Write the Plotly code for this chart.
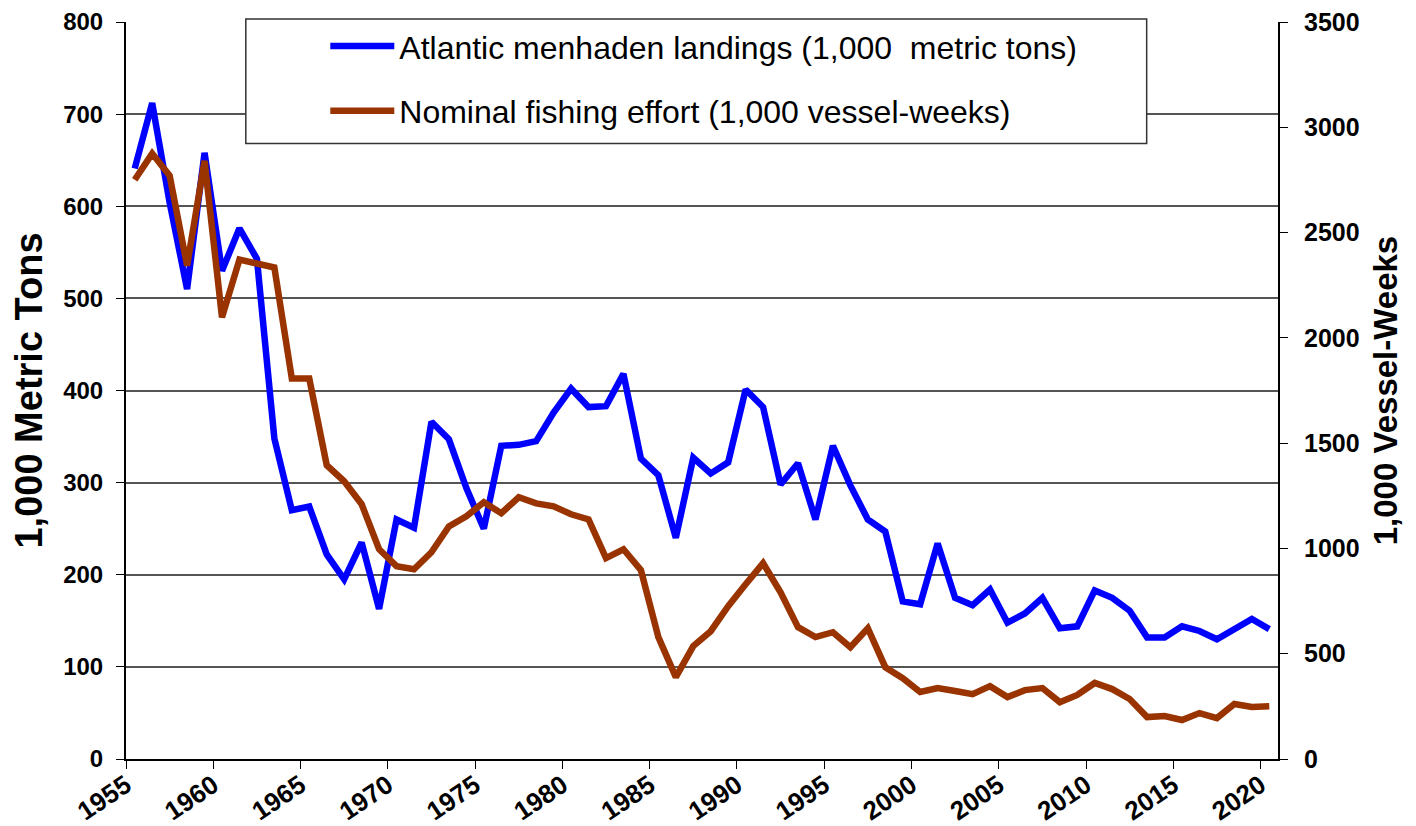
import plotly.graph_objects as go

years = list(range(1955, 2021))
landings = [641, 712, 604, 510, 658, 530, 576, 543, 348, 270, 274, 222, 195, 235, 163, 260, 251, 366, 347,
            294, 250, 340, 341, 345, 376, 402, 382, 383, 418, 326, 308, 240, 327, 310, 322, 401, 382, 298,
            321, 260, 340, 297, 260, 247, 171, 168, 234, 175, 167, 184, 148, 158, 175, 142, 144, 183, 175,
            161, 132, 132, 144, 139, 130, 142, 152, 141]
effort = [2751, 2875, 2770, 2343, 2841, 2097, 2372, 2353, 2334, 1807, 1807, 1395, 1319, 1210, 996, 916, 901,
          982, 1105, 1153, 1219, 1167, 1243, 1214, 1200, 1162, 1138, 954, 996, 897, 579, 389, 536, 607, 726,
          830, 930, 792, 626, 579, 602, 531, 621, 436, 384, 318, 337, 323, 308, 346, 294, 327, 337, 270,
          304, 361, 332, 285, 199, 204, 185, 218, 194, 261, 247, 250]
tick_years = list(range(1955, 2021, 5))
left_ticks = list(range(0, 801, 100))
right_ticks = list(range(0, 3501, 500))

name1 = "Atlantic menhaden landings (1,000  metric tons)"
name2 = "Nominal fishing effort (1,000 vessel-weeks)"

fig = go.Figure()
fig.add_trace(go.Scatter(x=years, y=landings, mode="lines", name=name1, legendgroup="a",
                         line=dict(color="#0000FF", width=6.5)))
fig.add_trace(go.Scatter(x=years, y=effort, mode="lines", name=name2, yaxis="y2", legendgroup="b",
                         line=dict(color="#993300", width=6.5)))

font_family = "Liberation Sans, Arial, sans-serif"
fig.update_layout(
    width=1416, height=826,
    margin=dict(l=118, r=146, t=13, b=75),
    paper_bgcolor="white", plot_bgcolor="white",
    font=dict(family=font_family, color="black"),
    showlegend=True,
    legend=dict(x=0.173, y=1.003, xanchor="left", yanchor="top",
                bgcolor="rgba(0,0,0,0)", borderwidth=0,
                font=dict(size=32, color="black"), tracegroupgap=20,
                itemwidth=64),
    xaxis=dict(range=[1954.5, 2020.5], tickmode="array", automargin=False,
               tickvals=[y - 0.5 for y in tick_years], ticktext=[str(y) for y in tick_years],
               tickangle=-34, tickfont=dict(size=26, family=font_family, weight="bold"),
               ticklabelstandoff=-9, ticklabeloverflow="allow",
               showgrid=False, zeroline=False, showline=True, linecolor="black", linewidth=2,
               ticks="outside", ticklen=8, tickcolor="black"),
    yaxis=dict(range=[0, 800], tickmode="array", tickvals=left_ticks, automargin=False,
               tickfont=dict(size=24, weight="bold"), ticklabelstandoff=8, ticklabeloverflow="allow",
               showgrid=True, gridcolor="#555555", gridwidth=1.5, zeroline=False,
               showline=True, linecolor="black", linewidth=2, ticks="outside", ticklen=8,
               tickcolor="black",
               title=dict(text="1,000 Metric Tons", font=dict(size=38, weight="bold"), standoff=10)),
    yaxis2=dict(range=[0, 3500], tickmode="array", tickvals=right_ticks, overlaying="y", side="right",
                automargin=False, tickfont=dict(size=25, weight="bold"), ticklabelstandoff=11,
                ticklabeloverflow="allow",
                showgrid=False, zeroline=False,
                showline=True, linecolor="black", linewidth=2, ticks="outside", ticklen=8,
                tickcolor="black",
                title=dict(text="1,000 Vessel-Weeks", font=dict(size=33, weight="bold"), standoff=15)),
    shapes=[dict(type="rect", xref="paper", yref="paper", x0=0.104, x1=0.886, y0=0.835, y1=1.004,
                 fillcolor="white", line=dict(color="#333333", width=1.5), layer="above")],
)

fig.write_html("out.html")
